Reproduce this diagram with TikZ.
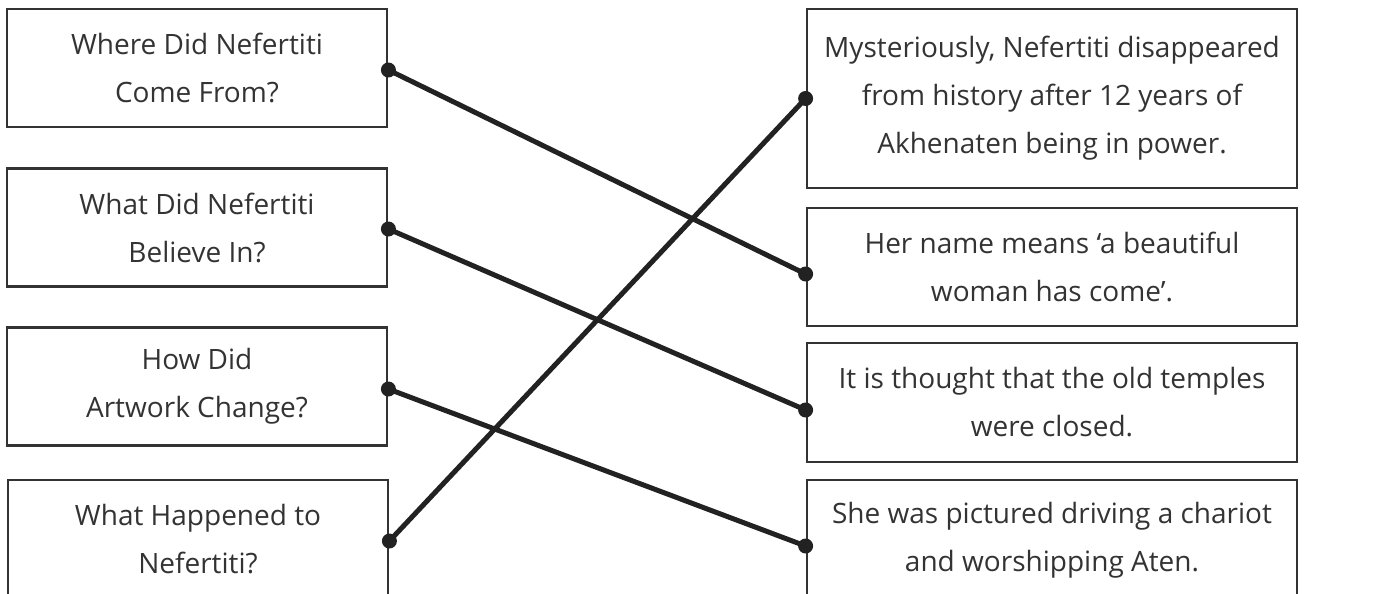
\documentclass[tikz,border=0pt]{standalone}
\usepackage{fontspec}
\setmainfont{Open Sans}
\definecolor{ink}{HTML}{333333}
\definecolor{wire}{HTML}{222222}
\begin{document}
\begin{tikzpicture}[x=1pt,y=-1pt,
  card/.style={draw=ink, line width=2.8pt, text=ink, align=center,
    inner sep=0pt, font=\fontsize{28}{48}\selectfont},
  qcard/.style={card, minimum width=380pt, minimum height=118pt},
  acard/.style={card, minimum width=490pt},
  link/.style={draw=wire, line width=5pt, line cap=round},
  dot/.style={fill=wire}]
\useasboundingbox (0,0) rectangle (1381,594);
% question cards
\node[qcard] (q1) at (197,68)  {Where Did Nefertiti\\Come From?};
\node[qcard] (q2) at (197,227.5) {What Did Nefertiti\\Believe In?};
\node[qcard] (q3) at (197,386.5) {How Did\\Artwork Change?};
\node[qcard] (q4) at (198,539) {What Happened to\\Nefertiti?};
% answer cards
\node[acard, minimum height=179pt] (a1) at (1052,98.5) {Mysteriously, Nefertiti disappeared\\from history after 12 years of\\Akhenaten being in power.};
\node[acard, minimum height=118pt] (a2) at (1052,267) {Her name means ‘a beautiful\\woman has come’.};
\node[acard, minimum height=119pt] (a3) at (1052,402.5) {It is thought that the old temples\\were closed.};
\node[acard, minimum height=120pt] (a4) at (1052,540) {She was pictured driving a chariot\\and worshipping Aten.};
% connection points
\coordinate (q1e) at ([yshift=-2pt]q1.east);
\coordinate (q2e) at ([yshift=-1.5pt]q2.east);
\coordinate (q3e) at ([yshift=-2.5pt]q3.east);
\coordinate (q4e) at ([yshift=-2pt]q4.east);
\coordinate (a1w) at (a1.west);
\coordinate (a2w) at ([yshift=-7pt]a2.west);
\coordinate (a3w) at ([yshift=-7.5pt]a3.west);
\coordinate (a4w) at ([yshift=-6pt]a4.west);
% matching lines
\draw[link] (q1e) -- (a2w);
\draw[link] (q2e) -- (a3w);
\draw[link] (q3e) -- (a4w);
\draw[link] (q4e) -- (a1w);
\foreach \p in {q1e,q2e,q3e,q4e,a1w,a2w,a3w,a4w}
  \fill[dot] (\p) circle (7.5pt);
\end{tikzpicture}
\end{document}
